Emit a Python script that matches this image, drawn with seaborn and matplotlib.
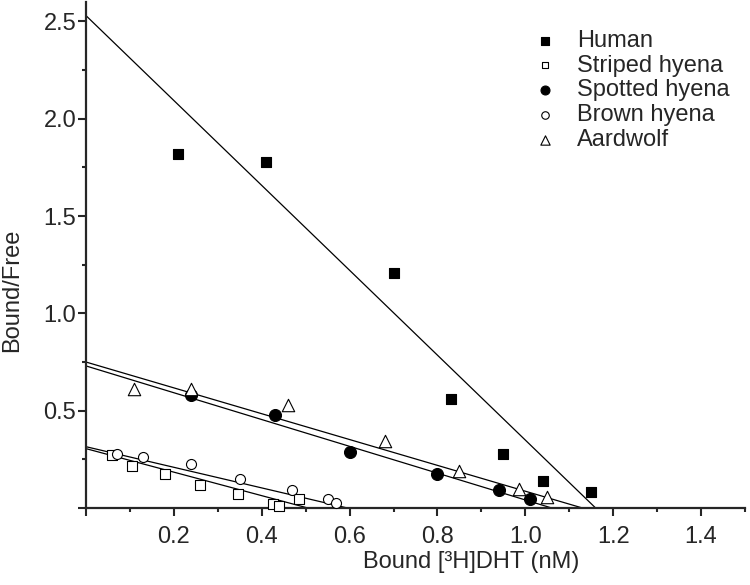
import numpy as np
import pandas as pd
import matplotlib
matplotlib.use('Agg')
import matplotlib.pyplot as plt
import seaborn as sns
from matplotlib.ticker import MultipleLocator, FuncFormatter

# 数据
species = ['Human', 'Striped hyena', 'Spotted hyena', 'Brown hyena', 'Aardwolf']

human_x = [0.21, 0.41, 0.70, 0.83, 0.95, 1.04, 1.15]
human_y = [1.82, 1.78, 1.21, 0.56, 0.28, 0.14, 0.08]
striped_x = [0.06, 0.105, 0.18, 0.26, 0.345, 0.425, 0.44, 0.485]
striped_y = [0.27, 0.215, 0.175, 0.12, 0.07, 0.02, 0.01, 0.045]
spotted_x = [0.24, 0.43, 0.60, 0.80, 0.94, 1.01]
spotted_y = [0.58, 0.48, 0.29, 0.175, 0.09, 0.045]
brown_x = [0.07, 0.13, 0.24, 0.35, 0.47, 0.55, 0.57]
brown_y = [0.28, 0.26, 0.225, 0.15, 0.09, 0.045, 0.025]
aard_x = [0.11, 0.24, 0.46, 0.68, 0.85, 0.985, 1.05]
aard_y = [0.61, 0.61, 0.53, 0.345, 0.19, 0.10, 0.055]

# Scatchard 拟合直线: y 截距, x 截距
line_y0 = [2.53, 0.305, 0.73, 0.315, 0.75]
line_x0 = [1.16, 0.505, 1.06, 0.595, 1.13]

xs = [human_x, striped_x, spotted_x, brown_x, aard_x]
ys = [human_y, striped_y, spotted_y, brown_y, aard_y]

markers = ['s', 's', 'o', 'o', '^']
faces = ['black', 'white', 'black', 'white', 'white']
sizes = [62, 42, 74, 52, 80]

sns.set_style('ticks')
plt.rcParams['font.family'] = ['Liberation Sans', 'DejaVu Sans']

fig = plt.figure(figsize=(7.5, 5.85), dpi=100)
ax = fig.add_axes([86 / 750, 77 / 585, 659 / 750, 506 / 585])

for i, name in enumerate(species):
    df = pd.DataFrame({'x': xs[i], 'y': ys[i]})
    sns.scatterplot(data=df, x='x', y='y', marker=markers[i], s=sizes[i],
                    color=faces[i], edgecolor='black', linewidth=0.8,
                    label=name, ax=ax, zorder=3, clip_on=False)
    lx = np.array([0, line_x0[i]])
    ly = line_y0[i] * (1 - lx / line_x0[i])
    ax.plot(lx, ly, color='black', lw=0.9, zorder=2)

ax.set_xlim(0, 1.5)
ax.set_ylim(0, 2.6)
ax.xaxis.set_major_locator(MultipleLocator(0.2))
ax.xaxis.set_minor_locator(MultipleLocator(0.1))
ax.yaxis.set_major_locator(MultipleLocator(0.5))
ax.yaxis.set_minor_locator(MultipleLocator(0.25))
ax.xaxis.set_major_formatter(FuncFormatter(lambda v, p: '' if abs(v) < 1e-9 else '%.1f' % v))
ax.yaxis.set_major_formatter(FuncFormatter(lambda v, p: '' if abs(v) < 1e-9 else '%.1f' % v))

ax.tick_params(which='major', length=6, width=1.5, labelsize=17, pad=1)
ax.tick_params(which='minor', length=3, width=1.5)
ax.tick_params(axis='x', which='major', pad=7)
sns.despine(ax=ax)
for sp in ['left', 'bottom']:
    ax.spines[sp].set_linewidth(1.6)

ax.set_xlabel('Bound [\u00b3H]DHT (nM)', fontsize=17)
ax.set_ylabel('Bound/Free', fontsize=17)
ax.xaxis.set_label_coords(0.585, -0.085)
ax.yaxis.set_label_coords(-0.095, 0.43)

ax.legend(loc='upper left', bbox_to_anchor=(521 / 750, 1 - 18 / 585),
          bbox_transform=fig.transFigure, frameon=False, fontsize=17,
          handlelength=1.0, handletextpad=0.86, labelspacing=0.12,
          borderpad=0, markerscale=0.75)

plt.savefig('out.png', dpi=100)
plt.close()
